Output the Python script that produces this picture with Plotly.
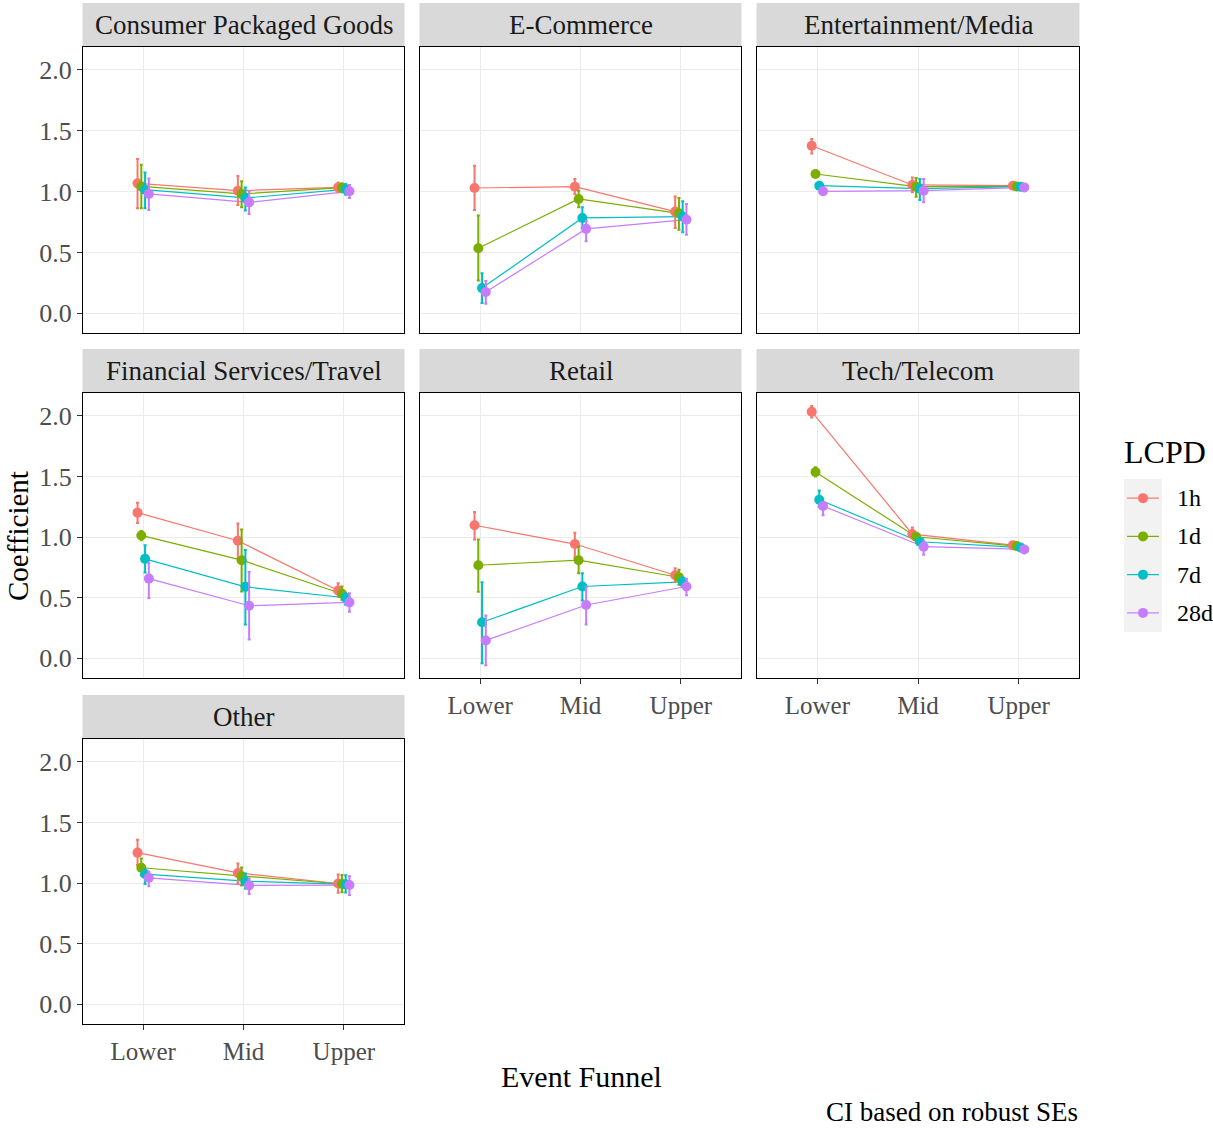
import plotly.graph_objects as go

W, H = 1213, 1129

categories = ["Lower", "Mid", "Upper"]
lcpd = ["1h", "1d", "7d", "28d"]
colors = ["#F8766D", "#7CAE00", "#00BFC4", "#C77CFF"]
industries = ["Consumer Packaged Goods", "E-Commerce", "Entertainment/Media",
              "Financial Services/Travel", "Retail", "Tech/Telecom", "Other"]
y_ticks = [0.0, 0.5, 1.0, 1.5, 2.0]
y_tick_labels = ["0.0", "0.5", "1.0", "1.5", "2.0"]

# rows: 1h, 1d, 7d, 28d ; columns: Lower, Mid, Upper
cpg_coef = [[1.068, 1.008, 1.035], [1.043, 0.981, 1.033], [1.016, 0.948, 1.019], [0.981, 0.912, 1.003]]
cpg_lo = [[0.863, 0.891, 0.994], [0.863, 0.871, 0.994], [0.863, 0.844, 0.975], [0.850, 0.817, 0.948]]
cpg_hi = [[1.268, 1.128, 1.076], [1.221, 1.085, 1.068], [1.158, 1.035, 1.063], [1.109, 1.003, 1.055]]

ecom_coef = [[1.030, 1.041, 0.836], [0.535, 0.940, 0.822], [0.207, 0.784, 0.795], [0.175, 0.694, 0.770]]
ecom_lo = [[0.850, 0.981, 0.702], [0.270, 0.871, 0.686], [0.084, 0.702, 0.666], [0.079, 0.593, 0.645]]
ecom_hi = [[1.213, 1.104, 0.961], [0.803, 1.008, 0.948], [0.330, 0.871, 0.920], [0.265, 0.757, 0.899]]

ent_coef = [[1.377, 1.055, 1.049], [1.145, 1.041, 1.043], [1.049, 1.025, 1.041], [1.003, 1.008, 1.035]]
ent_lo = [[1.314, 0.994, 1.030], [1.125, 0.959, 1.025], [1.030, 0.932, 1.022], [0.985, 0.912, 1.018]]
ent_hi = [[1.432, 1.117, 1.068], [1.165, 1.112, 1.061], [1.068, 1.104, 1.060], [1.021, 1.104, 1.052]]

fin_coef = [[1.202, 0.970, 0.560], [1.014, 0.810, 0.533], [0.821, 0.590, 0.500], [0.658, 0.434, 0.462]]
fin_lo = [[1.117, 0.823, 0.511], [0.975, 0.551, 0.484], [0.708, 0.279, 0.443], [0.497, 0.156, 0.385]]
fin_hi = [[1.284, 1.112, 0.620], [1.050, 1.063, 0.593], [0.933, 0.893, 0.538], [0.789, 0.713, 0.538]]

ret_coef = [[1.098, 0.943, 0.686], [0.768, 0.810, 0.669], [0.298, 0.593, 0.631], [0.148, 0.440, 0.593]]
ret_lo = [[0.981, 0.830, 0.633], [0.549, 0.702, 0.607], [-0.041, 0.478, 0.593], [-0.057, 0.279, 0.520]]
ret_hi = [[1.207, 1.036, 0.743], [0.981, 0.921, 0.730], [0.628, 0.702, 0.669], [0.353, 0.587, 0.656]]

tech_coef = [[2.035, 1.025, 0.934], [1.538, 1.003, 0.926], [1.309, 0.962, 0.915], [1.257, 0.921, 0.899]]
tech_lo = [[1.986, 0.989, 0.915], [1.500, 0.975, 0.905], [1.248, 0.935, 0.897], [1.180, 0.855, 0.880]]
tech_hi = [[2.082, 1.079, 0.953], [1.576, 1.035, 0.945], [1.385, 0.990, 0.933], [1.289, 0.962, 0.918]]

oth_coef = [[1.252, 1.084, 0.997], [1.127, 1.057, 0.993], [1.075, 1.016, 0.990], [1.044, 0.981, 0.984]]
oth_lo = [[1.150, 0.997, 0.920], [1.066, 0.981, 0.925], [0.992, 0.956, 0.922], [0.975, 0.910, 0.902]]
oth_hi = [[1.358, 1.161, 1.071], [1.203, 1.128, 1.068], [1.113, 1.079, 1.066], [1.093, 1.038, 1.057]]

panel_data = [(cpg_coef, cpg_lo, cpg_hi), (ecom_coef, ecom_lo, ecom_hi), (ent_coef, ent_lo, ent_hi),
              (fin_coef, fin_lo, fin_hi), (ret_coef, ret_lo, ret_hi), (tech_coef, tech_lo, tech_hi),
              (oth_coef, oth_lo, oth_hi)]

FONT = "Liberation Serif, Times New Roman, serif"
TICK_COLOR = "#4D4D4D"

# layout geometry (pixels)
col_x = [(83, 404), (420, 741), (757, 1079)]
row_y = [(47, 333), (393, 678), (739, 1024)]
strip_h = 44
dodge_w = 0.15
offsets = [(-3 / 8) * dodge_w, (-1 / 8) * dodge_w, (1 / 8) * dodge_w, (3 / 8) * dodge_w]
y_range = [-0.162, 2.189]


def px_x(p):
    return p / W


def px_y(p):
    return 1 - p / H


fig = go.Figure()
layout = dict(width=W, height=H, margin=dict(l=0, r=0, t=0, b=0),
              paper_bgcolor="white", plot_bgcolor="white", showlegend=False,
              font=dict(family=FONT, color="black"))
shapes = []
annotations = []

show_x = {4, 5, 6}
show_y = {0, 3, 6}

for i, name in enumerate(industries):
    r, c = divmod(i, 3)
    ax = "" if i == 0 else str(i + 1)
    x0, x1 = col_x[c]
    y0, y1 = row_y[r]
    coef, lo, hi = panel_data[i]
    for k in range(len(lcpd)):
        xs = [j + 1 + offsets[k] for j in range(len(categories))]
        fig.add_trace(go.Scatter(
            x=xs, y=coef[k], mode="lines", xaxis="x" + ax, yaxis="y" + ax,
            line=dict(color=colors[k], width=1.2), hoverinfo="skip"))
    for k in range(len(lcpd)):
        xs = [j + 1 + offsets[k] for j in range(len(categories))]
        fig.add_trace(go.Scatter(
            x=xs, y=coef[k], mode="markers", xaxis="x" + ax, yaxis="y" + ax,
            marker=dict(color=colors[k], size=10, line=dict(width=0)),
            error_y=dict(type="data", symmetric=False,
                         array=[h - v for h, v in zip(hi[k], coef[k])],
                         arrayminus=[v - l for v, l in zip(coef[k], lo[k])],
                         color=colors[k], thickness=2, width=1.5),
            name=lcpd[k]))
    layout["xaxis" + ax] = dict(
        domain=[px_x(x0), px_x(x1)], range=[0.4, 3.6], anchor="y" + ax,
        tickvals=[1, 2, 3], ticktext=categories,
        showticklabels=i in show_x, ticks="outside" if i in show_x else "",
        ticklen=5, tickcolor="#333333", tickwidth=1,
        tickfont=dict(family=FONT, size=25, color=TICK_COLOR),
        showgrid=True, gridcolor="#EBEBEB", gridwidth=1, zeroline=False,
        showline=True, mirror=True, linecolor="black", linewidth=1)
    layout["yaxis" + ax] = dict(
        domain=[px_y(y1), px_y(y0)], range=y_range, anchor="x" + ax,
        tickvals=y_ticks, ticktext=y_tick_labels,
        showticklabels=i in show_y, ticks="outside" if i in show_y else "",
        ticklen=5, tickcolor="#333333", tickwidth=1,
        tickfont=dict(family=FONT, size=26, color=TICK_COLOR),
        showgrid=True, gridcolor="#EBEBEB", gridwidth=1, zeroline=False,
        showline=True, mirror=True, linecolor="black", linewidth=1)
    shapes.append(dict(type="rect", xref="paper", yref="paper",
                       x0=px_x(x0 - 0.5), x1=px_x(x1 + 0.5),
                       y0=px_y(y0 - 0.5), y1=px_y(y0 - strip_h),
                       fillcolor="#D9D9D9", line=dict(width=0), layer="below"))
    annotations.append(dict(text=name, xref="paper", yref="paper",
                            x=px_x((x0 + x1) / 2), y=px_y(y0 - strip_h / 2),
                            xanchor="center", yanchor="middle", showarrow=False,
                            font=dict(family=FONT, size=27, color="#1A1A1A")))

# legend (manual)
layout["xaxis8"] = dict(domain=[px_x(1124), px_x(1162)], range=[0, 1], visible=False,
                        anchor="y8", fixedrange=True)
layout["yaxis8"] = dict(domain=[px_y(632), px_y(479)], range=[3.5, -0.5], visible=False,
                        anchor="x8", fixedrange=True)
shapes.append(dict(type="rect", xref="x8 domain", yref="y8 domain", x0=0, x1=1, y0=0, y1=1,
                   fillcolor="#F2F2F2", line=dict(width=0), layer="below"))
for k, lab in enumerate(lcpd):
    fig.add_trace(go.Scatter(x=[0.08, 0.92], y=[k, k], mode="lines", xaxis="x8", yaxis="y8",
                             line=dict(color=colors[k], width=1.2), hoverinfo="skip"))
    fig.add_trace(go.Scatter(x=[0.5], y=[k], mode="markers", xaxis="x8", yaxis="y8",
                             marker=dict(color=colors[k], size=10), hoverinfo="skip"))
    annotations.append(dict(text=lab, xref="paper", yref="y8", x=px_x(1175), y=k,
                            xanchor="left", yanchor="middle", showarrow=False,
                            font=dict(family=FONT, size=24, color="black")))
annotations.append(dict(text="LCPD", xref="paper", yref="paper", x=px_x(1122), y=px_y(452),
                        xanchor="left", yanchor="middle", showarrow=False,
                        font=dict(family=FONT, size=32, color="black")))

annotations.append(dict(text="Event Funnel", xref="paper", yref="paper", x=px_x(581), y=px_y(1076),
                        xanchor="center", yanchor="middle", showarrow=False,
                        font=dict(family=FONT, size=30, color="black")))
annotations.append(dict(text="Coefficient", xref="paper", yref="paper", x=px_x(18), y=px_y(536),
                        xanchor="center", yanchor="middle", showarrow=False, textangle=-90,
                        font=dict(family=FONT, size=29, color="black")))
annotations.append(dict(text="CI based on robust SEs", xref="paper", yref="paper", x=px_x(1080),
                        y=px_y(1112), xanchor="right", yanchor="middle", showarrow=False,
                        font=dict(family=FONT, size=27, color="black")))

layout["shapes"] = shapes
layout["annotations"] = annotations
fig.update_layout(**layout)
fig.write_html("out.html", config={"displayModeBar": False},
               post_script="document.body.style.margin='0';document.body.style.overflow='hidden';")
